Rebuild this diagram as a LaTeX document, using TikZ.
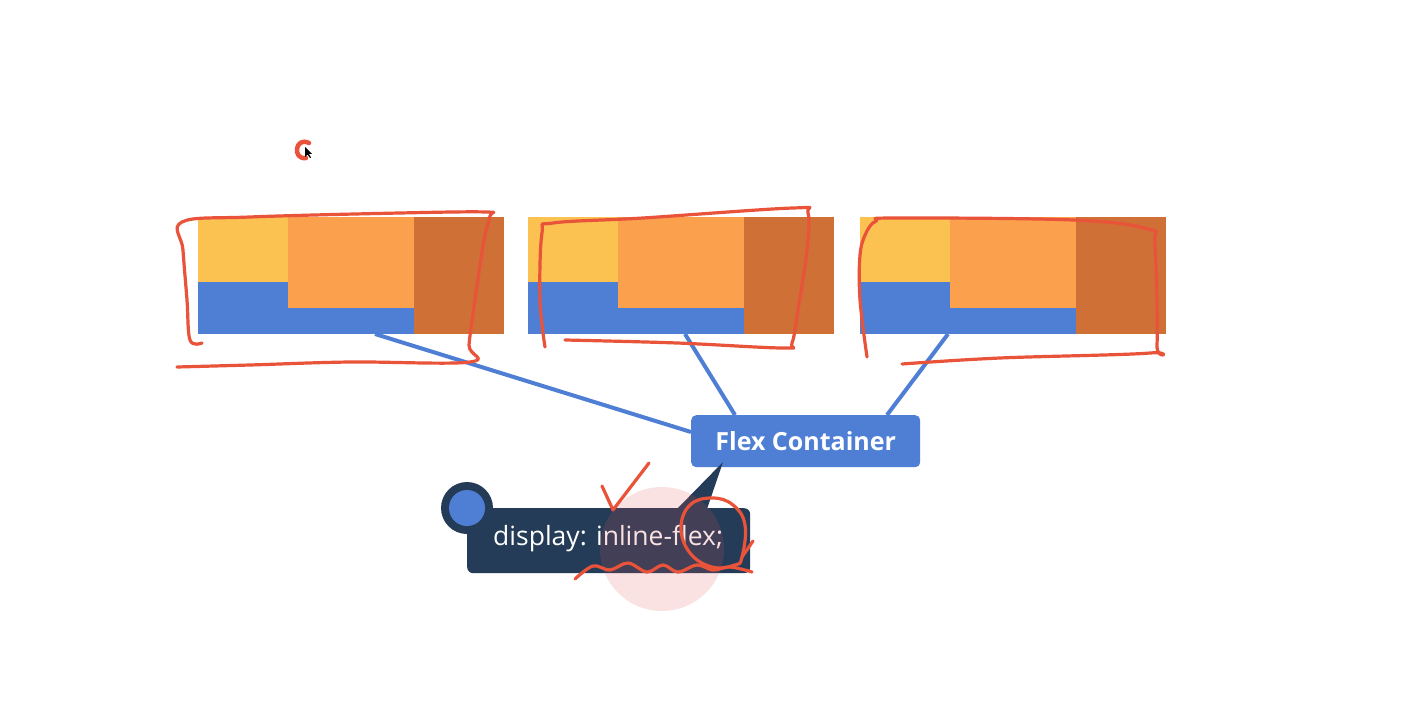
\documentclass[tikz,border=0pt]{standalone}
\usepackage{fontspec}
\setmainfont{Open Sans}
\usetikzlibrary{calc}
\definecolor{cyel}{HTML}{FCC251}
\definecolor{corg}{HTML}{FBA04C}
\definecolor{cdrk}{HTML}{CF7036}
\definecolor{cblu}{HTML}{4F7FD5}
\definecolor{cnav}{HTML}{243C58}
\definecolor{cred}{HTML}{E8533A}
\definecolor{cpnk}{RGB}{225,84,84}
\tikzset{
  ink/.style={cred, line width=3.2pt, line cap=round, line join=round},
  link/.style={cblu, line width=4pt},
  itembox/.style={draw=none, minimum width=306pt, minimum height=117pt, inner sep=0pt},
}
\begin{document}
\begin{tikzpicture}[x=1pt,y=-1pt]
\useasboundingbox (0,0) rectangle (1418,703);
\fill[white] (0,0) rectangle (1418,703);
% three flex items rows
\foreach \n/\x in {1/198,2/528,3/860}{
  \node[itembox, anchor=north west] (box\n) at (\x,217) {};
  \fill[cyel] (\x,217) rectangle ++(90,65);
  \fill[corg] (\x+90,217) rectangle ++(126,91);
  \fill[cblu] (\x,282) rectangle ++(90,52);
  \fill[cblu] (\x+90,308) rectangle ++(126,26);
  \fill[cdrk] (\x+216,217) rectangle ++(90,117);
}
% flex container label
\node[fill=cblu, rounded corners=5pt, minimum width=229pt, minimum height=52pt, anchor=north west, text=white, font=\bfseries\fontsize{25}{29}\selectfont] (fc) at (691,415) {Flex Container};
% connectors
\coordinate (s1) at (375,334);
\coordinate (s2) at (685,334);
\coordinate (s3) at (948,334);
\draw[link] (s1) -- (fc.west|-0,432);
\draw[link] (s2) -- (735,415);
\draw[link] (s3) -- (887,415);
% code bubble
\node[fill=cnav, rounded corners=6pt, minimum width=283pt, minimum height=65pt, anchor=north west, inner sep=0pt] (code) at (467,508) {};
\fill[cnav] (677,509) -- (723,462) -- (707,509) -- cycle;
\fill[cnav] (code.north west) circle (26);
\fill[cblu] (code.north west) circle (18);
\node[text=white, anchor=west, font=\fontsize{26.5}{31}\selectfont, inner sep=0pt] (codetext) at (493,539) {display: inline-flex;};
% pink highlight
\fill[cpnk, opacity=0.165] (662,549) circle (62);
% red annotations
\draw[ink] plot[smooth, tension=0.6] coordinates {(202,343) (190,340) (187,300) (183,250) (182,222) (250,217) (400,213) (486,212) (490,216) (484,240) (475,300) (469,345) (470,362) (350,362) (250,365) (177,367)};
\draw[ink] plot[smooth, tension=0.6] coordinates {(545,347) (540,300) (542,233) (553,223) (643,218) (793,208) (808,213) (807,250) (798,310) (792,343) (783,348) (677,343) (565,340)};
\draw[ink] plot[smooth, tension=0.6] coordinates {(867,357) (860,300) (860,255) (866,233) (876,221) (895,218) (1073,220) (1148,229) (1155,245) (1157,345) (1150,353) (1000,358) (902,364)};
\draw[ink] (602,486) -- (613,510) -- (649,463);
\draw[ink] plot[smooth cycle, tension=0.7] coordinates {(742,557) (745,525) (733,505) (712,498) (690,505) (681,528) (690,553) (712,567) (735,565)};
\draw[ink] (742,557) -- (753,541);
\draw[ink] plot[smooth, tension=0.6] coordinates {(575,579) (593,566) (610,570) (628,563) (647,572) (663,565) (678,572) (697,565) (713,570) (730,567) (752,572)};
% cursor mark
\draw[ink, line width=4.5pt] (309,143) .. controls (295,136) and (292,160) .. (306,158);
\fill[black] (305,147) -- (305,157) -- (307.5,154.5) -- (310,158) -- (311,157.5) -- (309,154) -- (312,154) -- cycle;
\end{tikzpicture}
\end{document}
